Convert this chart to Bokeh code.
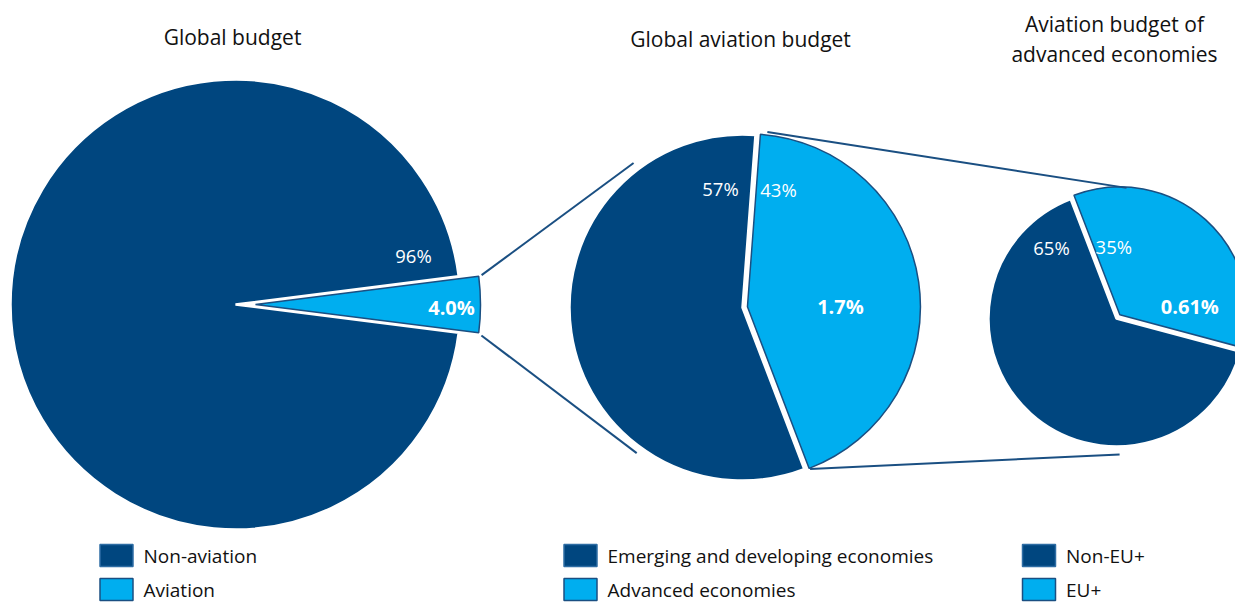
import math
from bokeh.plotting import figure
from bokeh.models import ColumnDataSource, Range1d
from bokeh.core.properties import value
from bokeh.embed import file_html
from bokeh.resources import INLINE

# ---------------- data ----------------
titles = [["Global budget"], ["Global aviation budget"], ["Aviation budget of", "advanced economies"]]
global_labels = ["Non-aviation", "Aviation"]
global_shares = [96, 4]
aviation_labels = ["Emerging and developing economies", "Advanced economies"]
aviation_shares = [57, 43]
advanced_labels = ["Non-EU+", "EU+"]
advanced_shares = [65, 35]
highlight_labels = ["4.0%", "1.7%", "0.61%"]

# ---------------- style / layout ----------------
DARK = "#00467F"
LIGHT = "#00AEEF"
EDGE = "#1A4F82"
FONT = "Open Sans"
PAGE_W, PAGE_H = 1235, 605

def Y(py):
    return PAGE_H - py

W, H = 1235, 605
p = figure(width=W, height=H, x_range=Range1d(0, W), y_range=Range1d(0, H),
           output_backend="svg", toolbar_location=None, min_border=0,
           x_axis_location=None, y_axis_location=None)
p.grid.visible = False
p.outline_line_color = None
p.background_fill_color = "white"

# pie layout: center (page px), radius, end angle of light slice (deg), explode distance
pies = [
    dict(shares=global_shares, cx=235, cy=304, r=225, light_end=None, explode=20,
         small_lbl=(178, 49), big_lbl=(196, -3), small_lbl2=None, title_x=232, title_y=[36]),
    dict(shares=aviation_shares, cx=742, cy=307, r=173, light_end=85.7, explode=5,
         small_lbl=(-22, 119), big_lbl=(93, 0), small_lbl2=(31, 117), title_x=740, title_y=[38]),
    dict(shares=advanced_shares, cx=1116, cy=318, r=128, light_end=111.0, explode=5,
         small_lbl=(-65, 71), big_lbl=(70, 8), small_lbl2=(-6, 68), title_x=1114, title_y=[23, 53]),
]

def polar(cx, cy, r, ang_deg):
    a = math.radians(ang_deg)
    return cx + r * math.cos(a), cy + r * math.sin(a)

wd = dict(x=[], y=[], r=[], s=[], e=[], fill=[], line=[], lw=[])
geo = []
for pie in pies:
    dark_share, light_share = pie["shares"]
    span = light_share * 3.6
    if pie["light_end"] is None:
        l_end = span / 2.0
    else:
        l_end = pie["light_end"]
    l_start = l_end - span
    mid = (l_start + l_end) / 2.0
    cx, cy = pie["cx"], Y(pie["cy"])
    lx, ly = polar(cx, cy, pie["explode"], mid)
    # dark slice
    wd["x"].append(cx); wd["y"].append(cy); wd["r"].append(pie["r"])
    wd["s"].append(math.radians(l_end)); wd["e"].append(math.radians(l_start + 360))
    wd["fill"].append(DARK); wd["line"].append("white"); wd["lw"].append(2.5)
    # light slice (exploded)
    wd["x"].append(lx); wd["y"].append(ly); wd["r"].append(pie["r"])
    wd["s"].append(math.radians(l_start)); wd["e"].append(math.radians(l_end))
    wd["fill"].append(LIGHT); wd["line"].append(EDGE); wd["lw"].append(1.5)
    geo.append(dict(cx=cx, cy=cy, lx=lx, ly=ly, r=pie["r"], l_start=l_start, l_end=l_end))

p.wedge(x="x", y="y", radius="r", start_angle="s", end_angle="e", fill_color="fill",
        line_color="line", line_width="lw", source=ColumnDataSource(wd))

# connector lines
g1, g2, g3 = geo
segs = []
a = polar(g1["lx"], g1["ly"], g1["r"] + 3, g1["l_end"] + 0.2)
b = polar(g2["cx"], g2["cy"], g2["r"] + 8, 127)
segs.append((a, b))
a = polar(g1["lx"], g1["ly"], g1["r"] + 3, g1["l_start"] - 0.6)
b = polar(g2["cx"], g2["cy"], g2["r"] + 7, 234)
segs.append((a, b))
a = polar(g2["lx"], g2["ly"], g2["r"] + 3, g2["l_end"] - 2.2)
b = polar(g3["cx"], g3["cy"], g3["r"] + 3, 85.6)
segs.append((a, b))
a = polar(g2["lx"], g2["ly"], g2["r"] + 1, g2["l_start"] + 0.2)
b = polar(g3["cx"], g3["cy"], g3["r"] + 8, -88.7)
segs.append((a, b))
p.segment(x0=[s[0][0] for s in segs], y0=[s[0][1] for s in segs],
          x1=[s[1][0] for s in segs], y1=[s[1][1] for s in segs],
          line_color=EDGE, line_width=2)

# pie labels
small_txt = dict(x=[], y=[], t=[])
big_txt = dict(x=[], y=[], t=[])
for pie, g, hl in zip(pies, geo, highlight_labels):
    dark_share, light_share = pie["shares"]
    dx, dy = pie["small_lbl"]
    small_txt["x"].append(g["cx"] + dx); small_txt["y"].append(g["cy"] + dy)
    small_txt["t"].append(f"{dark_share}%")
    if pie["small_lbl2"] is not None:
        dx, dy = pie["small_lbl2"]
        small_txt["x"].append(g["lx"] + dx); small_txt["y"].append(g["ly"] + dy)
        small_txt["t"].append(f"{light_share}%")
    dx, dy = pie["big_lbl"]
    big_txt["x"].append(g["lx"] + dx); big_txt["y"].append(g["ly"] + dy)
    big_txt["t"].append(hl)

p.text(x="x", y="y", text="t", source=ColumnDataSource(small_txt), text_color="white",
       text_font=value(FONT), text_font_size=value("18.5px"), text_align="center",
       text_baseline="middle")
p.text(x="x", y="y", text="t", source=ColumnDataSource(big_txt), text_color="white",
       text_font=value(FONT), text_font_size=value("20px"), text_font_style="bold",
       text_align="center", text_baseline="middle")

# titles
tt = dict(x=[], y=[], t=[])
for pie, lines in zip(pies, titles):
    for ln, ty in zip(lines, pie["title_y"]):
        tt["x"].append(pie["title_x"]); tt["y"].append(Y(ty)); tt["t"].append(ln)
p.text(x="x", y="y", text="t", source=ColumnDataSource(tt), text_color="#111111",
       text_font=value(FONT), text_font_size=value("21px"), text_align="center",
       text_baseline="middle")

# legends
legend_sets = [(global_labels, 116), (aviation_labels, 580), (advanced_labels, 1038.5)]
row_y = [555, 589]
sq = dict(x=[], y=[], fill=[], line=[])
lt = dict(x=[], y=[], t=[])
for labels, sx in legend_sets:
    for i, lab in enumerate(labels):
        sq["x"].append(sx); sq["y"].append(Y(row_y[i]))
        sq["fill"].append(DARK if i == 0 else LIGHT)
        sq["line"].append("#2E6DA4" if i == 0 else EDGE)
        lt["x"].append(sx + 27); lt["y"].append(Y(row_y[i])); lt["t"].append(lab)
p.rect(x="x", y="y", width=33, height=22, fill_color="fill", line_color="line",
       line_width=1.5, source=ColumnDataSource(sq))
p.text(x="x", y="y", text="t", source=ColumnDataSource(lt), text_color="#111111",
       text_font=value(FONT), text_font_size=value("19px"), text_align="left",
       text_baseline="middle")

open("out.html", "w").write(file_html(p, INLINE))
